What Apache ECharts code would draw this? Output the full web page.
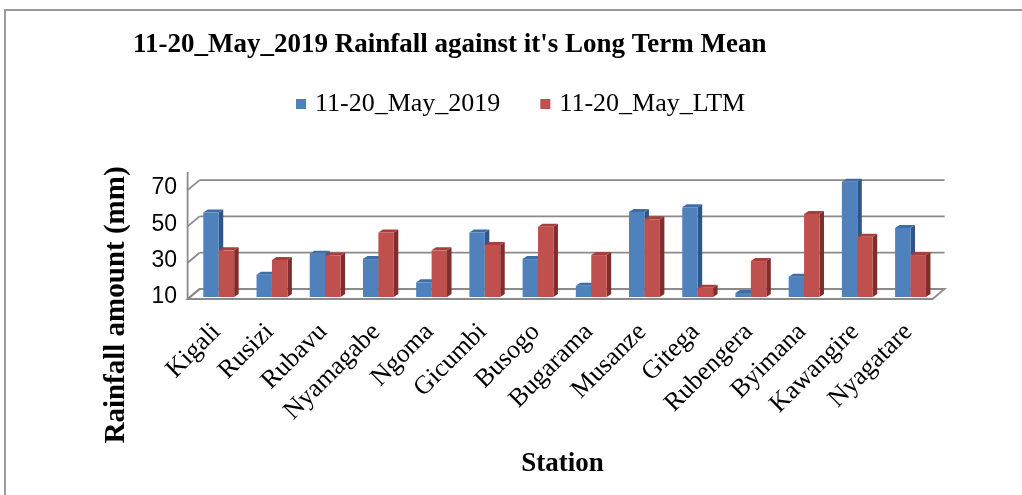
<!DOCTYPE html>
<html>
<head>
<meta charset="utf-8">
<script src="https://cdn.jsdelivr.net/npm/echarts@6/dist/echarts.min.js"></script>
<style>html,body{margin:0;padding:0;background:#fff;}#c{width:1022px;height:495px;}</style>
</head>
<body>
<div id="c"></div>
<script>
const stations = ['Kigali','Rusizi','Rubavu','Nyamagabe','Ngoma','Gicumbi','Busogo','Bugarama','Musanze','Gitega','Rubengera','Byimana','Kawangire','Nyagatare'];
const may2019 = [56.6, 22.3, 33.8, 30.9, 18.1, 45.6, 30.9, 16.2, 56.8, 59.4, 12.2, 21.2, 73.5, 48.1];
const mayLTM = [35.7, 30.4, 32.9, 45.6, 35.7, 38.6, 48.7, 33.1, 52.9, 15.1, 29.8, 55.8, 43.2, 33.1];
const yTicks = [10, 30, 50, 70];
const yMin = 10, yMax = 80, yStep = 20;

const serif = 'Liberation Serif, Times New Roman, serif';
const chart = echarts.init(document.getElementById('c'));

function barRenderer(offsetFrac, front, top, side) {
  return function (params, api) {
    const i = api.value(0), v = api.value(1);
    const base = api.coord([i, yMin]);
    const tp = api.coord([i, v]);
    const band = api.size([1, 0])[0];
    const w = band * 0.29;
    const x0 = tp[0] + band * offsetFrac;
    const dx = 4.5, dy = -3;
    const yT = tp[1], yB = base[1];
    return {
      type: 'group',
      children: [
        {type: 'polygon', shape: {points: [[x0 + w, yT], [x0 + w + dx, yT + dy], [x0 + w + dx, yB + dy], [x0 + w, yB]]}, style: {fill: side}},
        {type: 'polygon', shape: {points: [[x0, yT], [x0 + w, yT], [x0 + w + dx, yT + dy], [x0 + dx, yT + dy]]}, style: {fill: top}},
        {type: 'rect', shape: {x: x0, y: yT, width: w, height: yB - yT}, style: {fill: front}}
      ]
    };
  };
}

function decoRenderer(params, api) {
  const cs = params.coordSys;
  const L = cs.x, R = cs.x + cs.width;
  const fx = -2.4, fy = 2, bx = 9.6, by = -8;
  const lc = '#8a8a8a';
  const yb = api.coord([0, yMin])[1];
  const yt = api.coord([0, yMax])[1];
  const ch = [];
  ch.push({type: 'polygon', shape: {points: [[L + fx, yb + fy], [R + fx, yb + fy], [R + bx, yb + by], [L + bx, yb + by]]},
           style: {fill: '#ffffff', stroke: lc, lineWidth: 1.8}});
  yTicks.forEach(function (t) {
    const y = api.coord([0, t])[1];
    ch.push({type: 'line', shape: {x1: L + bx, y1: y + by, x2: R + bx, y2: y + by}, style: {stroke: lc, lineWidth: 1.8}});
    ch.push({type: 'line', shape: {x1: L + fx, y1: y + fy, x2: L + bx, y2: y + by}, style: {stroke: lc, lineWidth: 1.8}});
  });
  ch.push({type: 'line', shape: {x1: L + fx, y1: yt + fy, x2: L + fx, y2: yb + fy}, style: {stroke: lc, lineWidth: 1.8}});
  return {type: 'group', children: ch};
}

const option = {
  animation: false,
  backgroundColor: '#ffffff',
  title: {
    text: "11-20_May_2019 Rainfall against it's Long Term Mean",
    left: 133, top: 32, padding: 0,
    textStyle: {fontFamily: serif, fontSize: 27, fontWeight: 'bold', color: '#000'}
  },
  legend: {
    data: ['11-20_May_2019', '11-20_May_LTM'],
    left: 296, top: 91, padding: 0,
    icon: 'rect', itemWidth: 10, itemHeight: 10, itemGap: 40,
    textStyle: {fontFamily: serif, fontSize: 26, color: '#000', padding: [0, 0, 0, 4]}
  },
  grid: {left: 190, right: 87, top: 170, bottom: 198},
  xAxis: {
    type: 'category', data: stations,
    axisLine: {show: false}, axisTick: {show: false},
    axisLabel: {rotate: 45, margin: 31, interval: 0, fontFamily: serif, fontSize: 26, color: '#000'},
    name: 'Station', nameLocation: 'middle', nameGap: 154,
    nameTextStyle: {fontFamily: serif, fontSize: 27, fontWeight: 'bold', color: '#000'}
  },
  yAxis: {
    type: 'value', min: yMin, max: yMax, interval: yStep,
    splitLine: {show: false}, axisLine: {show: false}, axisTick: {show: false},
    axisLabel: {showMaxLabel: false, margin: 13, padding: [5, 0, 0, 0], fontFamily: 'Liberation Sans, Arial, sans-serif', fontSize: 23, color: '#000'}
  },
  graphic: [
    {type: 'rect', shape: {x: 5, y: 10, width: 1040, height: 520}, style: {fill: 'none', stroke: '#9a9a9a', lineWidth: 2}, z: 100},
    {type: 'text', x: 117, y: 305, rotation: Math.PI / 2,
     style: {text: 'Rainfall amount (mm)', font: 'bold 29px ' + serif, fill: '#000', align: 'center', verticalAlign: 'middle'}}
  ],
  series: [
    {type: 'custom', name: 'deco', data: [[0, yMin]], encode: {x: 0, y: 1}, renderItem: decoRenderer, z: 1, silent: true, clip: false},
    {type: 'custom', name: '11-20_May_2019', data: may2019.map(function (v, i) { return [i, v]; }), encode: {x: 0, y: 1},
     itemStyle: {color: '#4F81BD'}, z: 2, clip: false,
     renderItem: barRenderer(-0.25, '#4F81BD', '#3D6EA8', '#2F5684')},
    {type: 'custom', name: '11-20_May_LTM', data: mayLTM.map(function (v, i) { return [i, v]; }), encode: {x: 0, y: 1},
     itemStyle: {color: '#C0504D'}, z: 3, clip: false,
     renderItem: barRenderer(0.04, '#C0504D', '#A6403D', '#7E2F2D')}
  ]
};
chart.setOption(option);
</script>
</body>
</html>
